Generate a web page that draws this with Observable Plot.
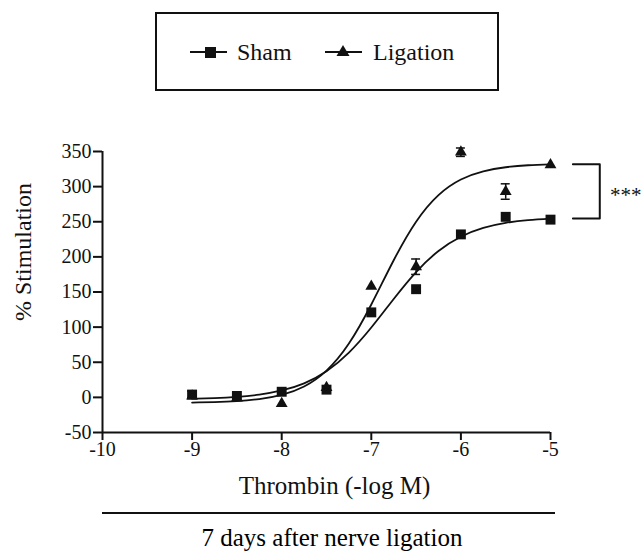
<!DOCTYPE html>
<html>
<head>
<meta charset="utf-8">
<script src="https://cdn.jsdelivr.net/npm/d3@7"></script>
<script src="https://cdn.jsdelivr.net/npm/@observablehq/plot@0.6"></script>
<style>
  body { margin: 0; background: #fff; }
  #wrap { position: relative; width: 644px; height: 555px; font-family: "Liberation Serif", "Times New Roman", "DejaVu Serif", serif; color: #000; }
  #legend { position: absolute; left: 155px; top: 12px; width: 344px; height: 79px; border: 2px solid #111; box-sizing: border-box; }
  #legend text { font-family: "Liberation Serif", "Times New Roman", "DejaVu Serif", serif; font-size: 24px; fill: #111; }
  #sep { position: absolute; left: 102px; top: 512px; width: 453px; height: 2px; background: #111; }
  #caption { position: absolute; left: 102px; width: 460px; top: 524px; text-align: center; font-size: 25px; white-space: nowrap; }
  #chart { position: absolute; left: 0; top: 0; }
  #chart svg text { font-family: "Liberation Serif", "Times New Roman", "DejaVu Serif", serif; }
</style>
</head>
<body>
<div id="wrap">
  <div id="chart"></div>
  <div id="legend">
    <svg width="340" height="75" style="position:absolute;left:0;top:0">
      <line x1="33" x2="70" y1="38" y2="38" stroke="#111" stroke-width="2"/>
      <rect x="48" y="33" width="11" height="11" fill="#111"/>
      <text x="80" y="46">Sham</text>
      <line x1="168" x2="205" y1="38" y2="38" stroke="#111" stroke-width="2"/>
      <path d="M186,31 L192.5,42 L179.5,42 Z" fill="#111"/>
      <text x="216" y="46">Ligation</text>
    </svg>
  </div>
  <div id="sep"></div>
  <div id="caption">7 days after nerve ligation</div>
</div>
<script>
// Concentrations (log M) and mean % stimulation
const doses = [-9, -8.5, -8, -7.5, -7, -6.5, -6, -5.5, -5];
const shamValues = [4, 2, 8, 11, 121, 154, 232, 257, 253];
const ligationValues = [2, -1, -9, 14, 158, 186, 349, 293, 331];
const shamErr = [5, 0, 0, 0, 0, 0, 0, 0, 0];
const ligationErr = [0, 0, 0, 0, 0, 11, 6, 11, 0];

// Fitted curves
const fitX = [-9, -8.75, -8.5, -8.25, -8, -7.75, -7.5, -7.25, -7, -6.75, -6.5, -6.25, -6, -5.75, -5.5, -5.25, -5];
const shamFit = [-1.9, -1.0, 0.7, 3.9, 9.8, 20.0, 37.2, 63.7, 99.4, 140.1, 178.4, 208.4, 228.7, 241.2, 248.4, 252.3, 254.5];
const ligationFit = [-7.4, -6.7, -5.3, -2.4, 3.5, 15.5, 38.1, 76.6, 132.2, 195.2, 250.1, 288, 310.2, 321.8, 327.6, 330.4, 331.8];

const xTicks = [-10, -9, -8, -7, -6, -5];
const yTicks = [-50, 0, 50, 100, 150, 200, 250, 300, 350];
const significance = "***";

const sham = doses.map((x, i) => ({x, y: shamValues[i], e: shamErr[i]}));
const lig = doses.map((x, i) => ({x, y: ligationValues[i], e: ligationErr[i]}));
const shamCurve = fitX.map((x, i) => ({x, y: shamFit[i]}));
const ligCurve = fitX.map((x, i) => ({x, y: ligationFit[i]}));
const errs = [...sham, ...lig].filter(d => d.e > 0);
const shamTop = shamFit[shamFit.length - 1];
const ligTop = ligationFit[ligationFit.length - 1];

const serif = "'Liberation Serif', 'Times New Roman', 'DejaVu Serif', serif";

const plot = Plot.plot({
  width: 644,
  height: 555,
  marginLeft: 102,
  marginRight: 94,
  marginTop: 151,
  marginBottom: 123,
  style: {fontFamily: serif, fontSize: "20px", color: "#111", background: "white"},
  x: {domain: [-10, -5]},
  y: {domain: [-50, 350]},
  marks: [
    Plot.axisX({ticks: xTicks, tickSize: 8, tickPadding: 1, tickFormat: d => String(d), label: null, strokeWidth: 2, fontSize: 20}),
    Plot.axisY({ticks: yTicks, tickSize: 9, tickPadding: 2, tickFormat: d => String(d), label: null, strokeWidth: 2, fontSize: 20}),
    Plot.ruleX([-10], {y1: -50, y2: 350, strokeWidth: 2, stroke: "#111"}),
    Plot.ruleY([-50], {x1: -10, x2: -5, strokeWidth: 2, stroke: "#111"}),
    Plot.line(shamCurve, {x: "x", y: "y", curve: "natural", stroke: "#111", strokeWidth: 1.8}),
    Plot.line(ligCurve, {x: "x", y: "y", curve: "natural", stroke: "#111", strokeWidth: 1.8}),
    Plot.ruleX(errs, {x: "x", y1: d => d.y - d.e, y2: d => d.y + d.e, stroke: "#111", strokeWidth: 1.5}),
    Plot.ruleY(errs, {y: d => d.y + d.e, x1: d => d.x - 0.05, x2: d => d.x + 0.05, stroke: "#111", strokeWidth: 1.5}),
    Plot.ruleY(errs, {y: d => d.y - d.e, x1: d => d.x - 0.05, x2: d => d.x + 0.05, stroke: "#111", strokeWidth: 1.5}),
    Plot.dot(sham, {x: "x", y: "y", symbol: "square", r: 5.6, fill: "#111", stroke: "none"}),
    Plot.dot(lig, {x: "x", y: "y", symbol: "triangle", r: 4.4, fill: "#111", stroke: "none"}),
    Plot.line([{x: -4.75, y: ligTop}, {x: -4.45, y: ligTop}, {x: -4.45, y: shamTop}, {x: -4.75, y: shamTop}], {x: "x", y: "y", stroke: "#111", strokeWidth: 2}),
    Plot.text([significance], {x: -4.16, y: (ligTop + shamTop) / 2, fontSize: 21, dy: 4}),
    Plot.text(["% Stimulation"], {frameAnchor: "left", textAnchor: "middle", rotate: -90, dx: -79, dy: -40, fontSize: 24}),
    Plot.text(["Thrombin (-log M)"], {frameAnchor: "bottom", dx: 8, dy: 61, fontSize: 25})
  ]
});
document.getElementById("chart").appendChild(plot);
</script>
</body>
</html>
